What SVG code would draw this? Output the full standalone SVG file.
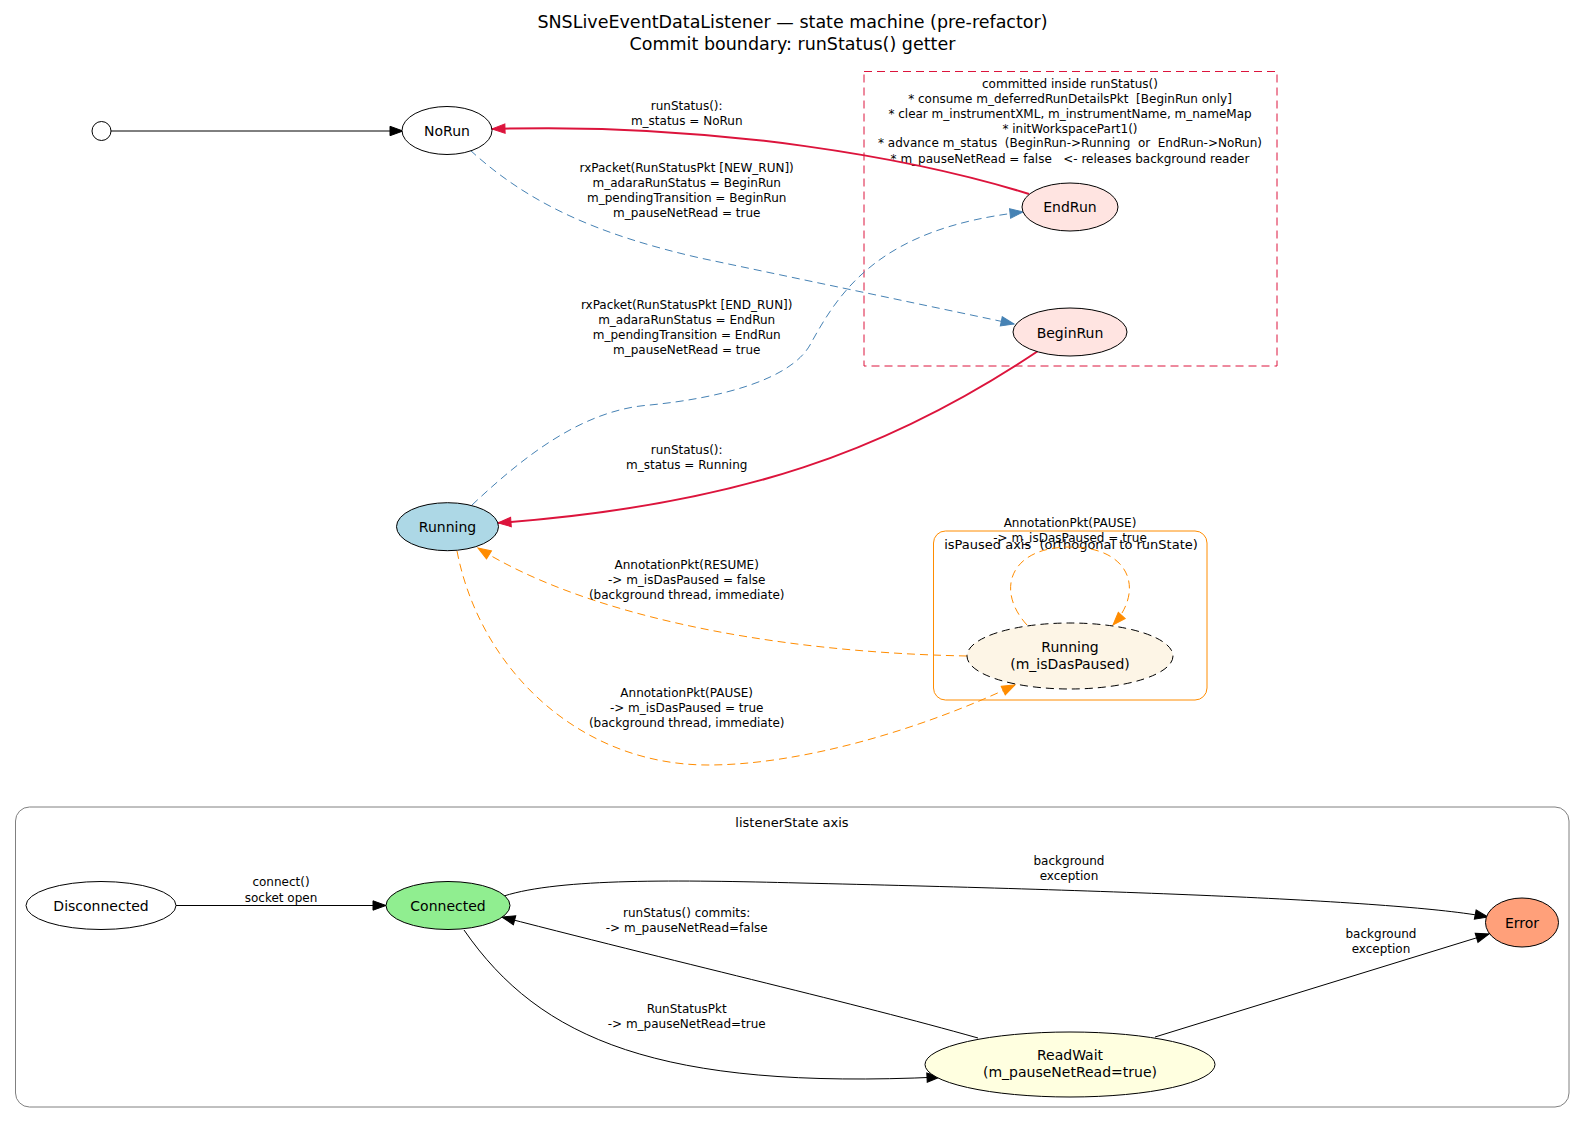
<svg xmlns="http://www.w3.org/2000/svg" width="1585" height="1124" viewBox="0 0 1585 1124">
<style>
text{font-family:"DejaVu Sans","Liberation Sans",sans-serif;fill:#000;text-anchor:middle}
.t{font-size:17.5px}
.nl{font-size:14px}
.el{font-size:12px}
.cl{font-size:13px}
.node{stroke:#000;stroke-width:1}
.e{fill:none;stroke-width:1}
.blk{stroke:#000;marker-end:url(#ab)}
.red{stroke:#DC143C;stroke-width:2;marker-end:url(#ar)}
.blue{stroke:#4682B4;stroke-dasharray:8,5;marker-end:url(#as)}
.org{stroke:#FF8C00;stroke-dasharray:8,5;marker-end:url(#ao)}
</style>
<defs>
<marker id="ab" markerUnits="userSpaceOnUse" markerWidth="14" markerHeight="10" refX="13" refY="4.7" orient="auto" overflow="visible"><path d="M0,0 L13,4.7 L0,9.4 z" fill="#000" stroke="#000" stroke-width="1"/></marker>
<marker id="ar" markerUnits="userSpaceOnUse" markerWidth="14" markerHeight="10" refX="13" refY="4.7" orient="auto" overflow="visible"><path d="M0,0 L13,4.7 L0,9.4 z" fill="#DC143C" stroke="#DC143C" stroke-width="1"/></marker>
<marker id="as" markerUnits="userSpaceOnUse" markerWidth="14" markerHeight="10" refX="13" refY="4.7" orient="auto" overflow="visible"><path d="M0,0 L13,4.7 L0,9.4 z" fill="#4682B4" stroke="#4682B4" stroke-width="1"/></marker>
<marker id="ao" markerUnits="userSpaceOnUse" markerWidth="14" markerHeight="10" refX="13" refY="4.7" orient="auto" overflow="visible"><path d="M0,0 L13,4.7 L0,9.4 z" fill="#FF8C00" stroke="#FF8C00" stroke-width="1"/></marker>
</defs>
<rect width="1585" height="1124" fill="#fff"/>

<g id="title">
<text class="t" x="792.5" y="28">SNSLiveEventDataListener — state machine (pre-refactor)</text>
<text class="t" x="792.5" y="50">Commit boundary: runStatus() getter</text>
</g>

<g id="cluster_commit">
<rect x="864" y="71.5" width="413" height="294.5" fill="none" stroke="#DC143C" stroke-width="1" stroke-dasharray="8,5"/>
<text class="el" x="1070" y="87.6" xml:space="preserve">committed inside runStatus()</text>
<text class="el" x="1070" y="102.6" xml:space="preserve">* consume m_deferredRunDetailsPkt  [BeginRun only]</text>
<text class="el" x="1070" y="117.6" xml:space="preserve">* clear m_instrumentXML, m_instrumentName, m_nameMap</text>
<text class="el" x="1070" y="132.6" xml:space="preserve">* initWorkspacePart1()</text>
<text class="el" x="1070" y="147.4" xml:space="preserve">* advance m_status  (BeginRun-&gt;Running  or  EndRun-&gt;NoRun)</text>
<text class="el" x="1070" y="162.6" xml:space="preserve">* m_pauseNetRead = false   &lt;- releases background reader</text>
</g>

<g id="cluster_paused">
<rect x="933.5" y="531" width="273.5" height="169" rx="12" ry="12" fill="none" stroke="#FF8C00" stroke-width="1"/>
<text class="cl" x="1071" y="548.7" xml:space="preserve">isPaused axis  (orthogonal to runState)</text>
</g>

<g id="cluster_listener">
<rect x="15.5" y="807" width="1553.5" height="300" rx="14" ry="14" fill="none" stroke="#808080" stroke-width="1"/>
<text class="cl" x="792" y="826.7">listenerState axis</text>
</g>

<g id="edges">
<path class="e blk" d="M111,131 L403,131"/>
<path class="e red" d="M1029,194 C920,160 720,122 492,129"/>
<path class="e blue" d="M470,150 C530,205 600,235 700,258 L1014,324"/>
<path class="e blue" d="M472,505 C520,460 580,410 650,405 C720,398 790,380 810,345 C840,290 880,228 1023,212"/>
<path class="e red" d="M1038,351 C890,450 740,505 498,523"/>
<path class="e org" d="M457,551 C480,670 580,765 708,765 C800,765 920,730 1015,685"/>
<path class="e org" d="M967,656 C760,652 580,612 478,548"/>
<path class="e org" d="M1027,625 C995,590 1010,547 1070,547 C1130,547 1145,590 1113,625"/>
<path class="e blk" d="M176,905.5 L386,905.5"/>
<path class="e blk" d="M504,896 C560,878 680,880 800,883 C1100,890 1400,900 1488,917"/>
<path class="e blk" d="M978,1038 C850,1002 700,968 502,917"/>
<path class="e blk" d="M464,930 C540,1040 660,1090 940,1077"/>
<path class="e blk" d="M1155,1037 L1489,934"/>

<text class="el" x="686.7" y="110.3">runStatus():</text>
<text class="el" x="686.7" y="125">m_status = NoRun</text>
<text class="el" x="686.7" y="171.6">rxPacket(RunStatusPkt [NEW_RUN])</text>
<text class="el" x="686.7" y="186.6">m_adaraRunStatus = BeginRun</text>
<text class="el" x="686.7" y="201.6">m_pendingTransition = BeginRun</text>
<text class="el" x="686.7" y="216.6">m_pauseNetRead = true</text>
<text class="el" x="686.7" y="309.3">rxPacket(RunStatusPkt [END_RUN])</text>
<text class="el" x="686.7" y="324.3">m_adaraRunStatus = EndRun</text>
<text class="el" x="686.7" y="339">m_pendingTransition = EndRun</text>
<text class="el" x="686.7" y="353.8">m_pauseNetRead = true</text>
<text class="el" x="686.7" y="454.3">runStatus():</text>
<text class="el" x="686.7" y="468.8">m_status = Running</text>
<text class="el" x="686.7" y="569.3">AnnotationPkt(RESUME)</text>
<text class="el" x="686.7" y="583.8">-&gt; m_isDasPaused = false</text>
<text class="el" x="686.7" y="598.6">(background thread, immediate)</text>
<text class="el" x="686.7" y="697.3">AnnotationPkt(PAUSE)</text>
<text class="el" x="686.7" y="712.3">-&gt; m_isDasPaused = true</text>
<text class="el" x="686.7" y="727.3">(background thread, immediate)</text>
<text class="el" x="1070" y="527">AnnotationPkt(PAUSE)</text>
<text class="el" x="1070" y="541.5">-&gt; m_isDasPaused = true</text>
<text class="el" x="281" y="886.3">connect()</text>
<text class="el" x="281" y="902.3">socket open</text>
<text class="el" x="1069" y="865.3">background</text>
<text class="el" x="1069" y="880.3">exception</text>
<text class="el" x="686.7" y="917.3">runStatus() commits:</text>
<text class="el" x="686.7" y="932.3">-&gt; m_pauseNetRead=false</text>
<text class="el" x="686.7" y="1013.3">RunStatusPkt</text>
<text class="el" x="686.7" y="1027.8">-&gt; m_pauseNetRead=true</text>
<text class="el" x="1381" y="937.5">background</text>
<text class="el" x="1381" y="952.8">exception</text>
</g>

<g id="start"><circle class="node" cx="101.5" cy="131" r="9.5" fill="#fff"/></g>
<g id="NoRun"><ellipse class="node" cx="447" cy="130.5" rx="45" ry="24" fill="#fff"/><text class="nl" x="447" y="135.5">NoRun</text></g>
<g id="EndRun"><ellipse class="node" cx="1070" cy="207" rx="48" ry="24" fill="#FFE4E1"/><text class="nl" x="1070" y="212">EndRun</text></g>
<g id="BeginRun"><ellipse class="node" cx="1070" cy="332" rx="57" ry="24" fill="#FFE4E1"/><text class="nl" x="1070" y="337.5">BeginRun</text></g>
<g id="Running"><ellipse class="node" cx="447.5" cy="526.7" rx="51" ry="24" fill="#ADD8E6"/><text class="nl" x="447.5" y="531.5">Running</text></g>
<g id="RunningPaused"><ellipse class="node" cx="1070" cy="656" rx="103" ry="33" fill="#FDF5E6" stroke-dasharray="8,5"/><text class="nl" x="1070" y="651.5">Running</text><text class="nl" x="1070" y="668.5">(m_isDasPaused)</text></g>
<g id="Disconnected"><ellipse class="node" cx="101" cy="905.5" rx="75" ry="24" fill="#fff"/><text class="nl" x="101" y="910.5">Disconnected</text></g>
<g id="Connected"><ellipse class="node" cx="448" cy="905.5" rx="62" ry="24" fill="#90EE90"/><text class="nl" x="448" y="910.5">Connected</text></g>
<g id="Error"><ellipse class="node" cx="1522" cy="922.5" rx="36.5" ry="24.5" fill="#FFA07A"/><text class="nl" x="1522" y="927.5">Error</text></g>
<g id="ReadWait"><ellipse class="node" cx="1070" cy="1064.5" rx="145" ry="32.5" fill="#FFFFE0"/><text class="nl" x="1070" y="1060">ReadWait</text><text class="nl" x="1070" y="1077">(m_pauseNetRead=true)</text></g>
</svg>
